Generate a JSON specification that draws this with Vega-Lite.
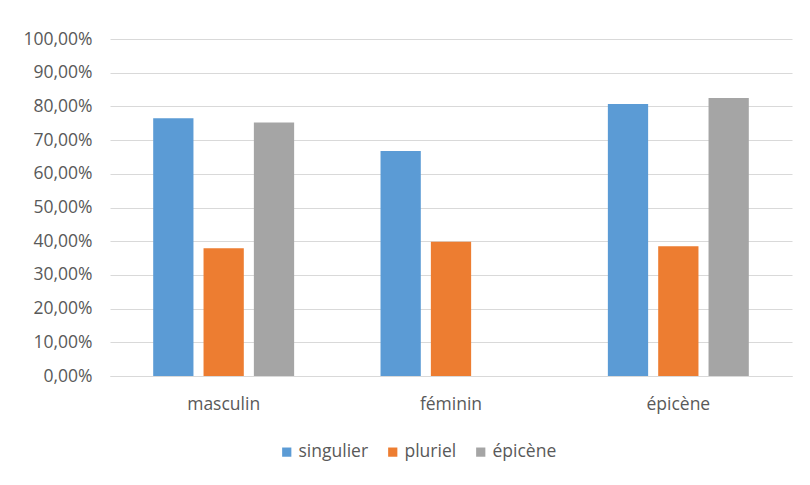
{
  "$schema": "https://vega.github.io/schema/vega-lite/v6.json",
  "autosize": {"type": "none"},
  "width": 682,
  "height": 337,
  "padding": {"left": 110, "top": 39, "right": 18, "bottom": 109},
  "background": "white",
  "config": {
    "view": {"stroke": null},
    "font": "Open Sans",
    "axis": {"labelFont": "Open Sans", "labelFontSize": 17.5, "labelColor": "#595959"},
    "legend": {"labelFont": "Open Sans", "labelFontSize": 17.5, "labelColor": "#595959"}
  },
  "data": {
    "values": [
      {"genre": "masculin", "serie": "singulier", "valeur": 0.765},
      {"genre": "masculin", "serie": "pluriel", "valeur": 0.379},
      {"genre": "masculin", "serie": "épicène", "valeur": 0.752},
      {"genre": "féminin", "serie": "singulier", "valeur": 0.668},
      {"genre": "féminin", "serie": "pluriel", "valeur": 0.398},
      {"genre": "épicène", "serie": "singulier", "valeur": 0.807},
      {"genre": "épicène", "serie": "pluriel", "valeur": 0.385},
      {"genre": "épicène", "serie": "épicène", "valeur": 0.825}
    ]
  },
  "mark": {"type": "bar"},
  "encoding": {
    "x": {
      "field": "genre",
      "type": "nominal",
      "sort": ["masculin", "féminin", "épicène"],
      "scale": {"paddingInner": 0.38, "paddingOuter": 0.19},
      "axis": {
        "title": null,
        "labelAngle": 0,
        "ticks": false,
        "domainColor": "#d9d9d9",
        "domainWidth": 1,
        "labelPadding": 19
      }
    },
    "xOffset": {
      "field": "serie",
      "type": "nominal",
      "sort": ["singulier", "pluriel", "épicène"],
      "scale": {"paddingInner": 0.2, "paddingOuter": 0}
    },
    "y": {
      "field": "valeur",
      "type": "quantitative",
      "scale": {"domain": [0, 1], "nice": false},
      "axis": {
        "title": null,
        "values": [0, 0.1, 0.2, 0.3, 0.4, 0.5, 0.6, 0.7, 0.8, 0.9, 1],
        "labelExpr": "replace(format(datum.value, '.2%'), '.', ',')",
        "domain": false,
        "ticks": false,
        "gridColor": "#d9d9d9",
        "gridWidth": 1,
        "labelPadding": 18
      }
    },
    "color": {
      "field": "serie",
      "type": "nominal",
      "sort": ["singulier", "pluriel", "épicène"],
      "scale": {
        "domain": ["singulier", "pluriel", "épicène"],
        "range": ["#5B9BD5", "#ED7D31", "#A5A5A5"]
      },
      "legend": {
        "title": null,
        "orient": "none",
        "direction": "horizontal",
        "legendX": 168,
        "legendY": 404,
        "symbolType": "square",
        "symbolSize": 85,
        "symbolStrokeWidth": 0,
        "labelOffset": 3,
        "columnPadding": 15
      }
    }
  }
}
